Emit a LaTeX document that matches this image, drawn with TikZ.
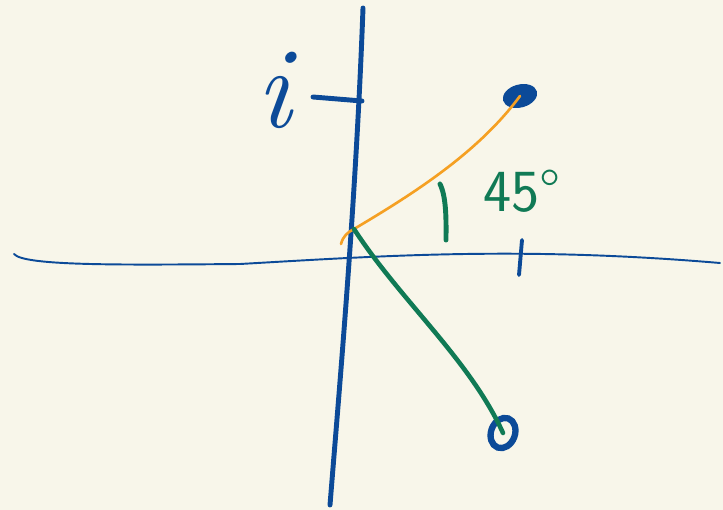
\documentclass[tikz,border=0pt]{standalone}
\usepackage{xcolor}
\usetikzlibrary{positioning,shapes.geometric}
\definecolor{inkblue}{RGB}{12,74,152}
\definecolor{inkgreen}{RGB}{16,122,85}
\definecolor{inkorange}{RGB}{245,160,35}
\definecolor{paper}{RGB}{248,246,234}
\tikzset{pen/.style={line cap=round, line join=round}}

\begin{document}
\begin{tikzpicture}[x=0.02cm,y=-0.02cm]
  % Paper
  \fill[paper] (0,0) rectangle (723,510);

  % Real axis (thin)
  \draw[pen, inkblue, line width=1.1pt] (14,254) .. controls (24,266) and (120,265) .. (240,264)
    .. controls (380,256) and (520,246) .. (720,263);
  % Imaginary axis (thick)
  \draw[pen, inkblue, line width=2.8pt] (363,8) .. controls (356,200) and (340,380) .. (330,505);

  % Unit ticks
  \draw[pen, inkblue, line width=2.8pt] (313,97) -- (362,101);
  \draw[pen, inkblue, line width=2.2pt] (522,240) -- (519,275);
  \node[inkblue, font=\itshape\fontsize{66}{66}\selectfont] (ilabel) at (274,90) {i};

  % Points
  \coordinate (O) at (354,229);
  \node[ellipse, fill=inkblue, inner sep=0, minimum width=0.7cm, minimum height=0.46cm, rotate=15] (pdot) at (520,96) {};
  \node[ellipse, draw=inkblue, line width=3.6pt, inner sep=0, minimum width=0.48cm, minimum height=0.62cm, rotate=-20] (qdot) at (503,433) {};

  % Orange ray
  \draw[pen, inkorange, line width=1.5pt] (341,244) .. controls (343,236) and (348,232) .. (O)
    .. controls (420,190) and (480,150) .. (pdot.center);
  % Green ray
  \draw[pen, inkgreen, line width=2.6pt] (O) .. controls (400,300) and (470,360) .. (qdot.center);

  % Angle mark and label
  \draw[pen, inkgreen, line width=2.8pt] (440,184) .. controls (447,198) and (446,225) .. (446,240);
  \node[inkgreen, font=\sffamily\fontsize{34}{34}\selectfont] (angle) at (522,191) {45\textdegree};
\end{tikzpicture}
\end{document}
